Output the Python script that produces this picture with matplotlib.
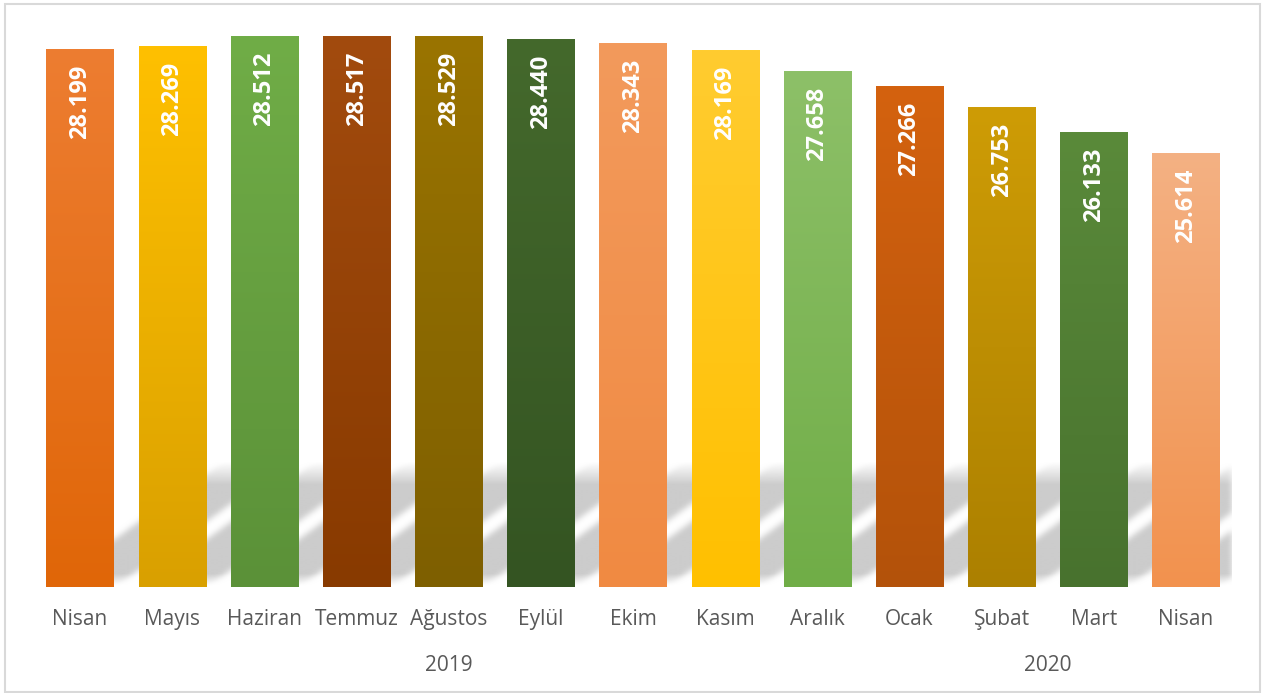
import numpy as np
import matplotlib.pyplot as plt
from matplotlib.patches import Rectangle
from matplotlib.colors import to_rgb

plt.rcParams['font.family'] = ['Open Sans', 'DejaVu Sans']

# ---------------- Data ----------------

months = ["Nisan", "Mayıs", "Haziran", "Temmuz", "Ağustos", "Eylül", "Ekim",
          "Kasım", "Aralık", "Ocak", "Şubat", "Mart", "Nisan"]
values = [28.199, 28.269, 28.512, 28.517, 28.529, 28.440, 28.343,
          28.169, 27.658, 27.266, 26.753, 26.133, 25.614]
years = ["2019", "2020"]
year_first = [0, 9]   # first month index of each year
year_last = [8, 12]   # last month index of each year

top_colors = ["#ED7D31", "#FFC000", "#70AD47", "#A24B0E", "#9A7400", "#44692C",
              "#F39A5C", "#FFCC30", "#8DC068", "#D4620F", "#CE9C06", "#5A8A3A",
              "#F4B183"]
bottom_colors = ["#E06608", "#D9A000", "#5B9138", "#883A00", "#7E5F00", "#345422",
                 "#F08A42", "#FFC000", "#70AD47", "#B3520A", "#AC8000", "#48722E",
                 "#F2924E"]

Y_MIN, Y_MAX = 14.8, 28.93
BAR_W = 0.73

fig = plt.figure(figsize=(12.65, 6.93), dpi=100)
ax = fig.add_axes([0.0269, 0.1530, 0.9470, 0.8181])

x = np.arange(len(months))

# ---------------- Soft diagonal shadow behind the bars ----------------

sh_bot, sh_top = Y_MIN, 18.0
nx, ny = 1200, 130
gx = np.linspace(-0.5, len(months) - 0.5, nx)
gy = np.linspace(sh_bot, sh_top, ny)
XX, YY = np.meshgrid(gx, gy)
off = 1.0 + 0.605 * (YY - 16.42)
mask = np.zeros_like(XX)
for c in x:
    mask[np.abs(XX - (c + off)) <= BAR_W / 2] = 1.0

k = np.exp(-0.5 * (np.arange(-8, 9) / 3.0) ** 2)
k /= k.sum()
mask = np.apply_along_axis(lambda r: np.convolve(r, k, mode='same'), 1, mask)
mask = np.apply_along_axis(lambda r: np.convolve(r, k, mode='same'), 0, mask)

fade_top = np.clip((17.92 - gy) / (17.92 - 17.35), 0, 1)
fade_bot = np.clip((gy - 14.82) / (15.12 - 14.82), 0, 1)
fade = (fade_top * fade_bot)[:, None]

shadow = np.zeros((ny, nx, 4))
shadow[..., :3] = 0.80
shadow[..., 3] = mask * fade
ax.imshow(shadow, extent=(-0.5, len(months) - 0.5, sh_bot, sh_top),
          origin='lower', aspect='auto', interpolation='bilinear', zorder=1)

# ---------------- Gradient bars ----------------

bars = ax.bar(x, values, width=BAR_W, color='none', edgecolor='none', zorder=2)

for bar, c_top, c_bot in zip(bars, top_colors, bottom_colors):
    x0 = bar.get_x()
    x1 = x0 + bar.get_width()
    h = bar.get_height()
    grad = np.linspace(to_rgb(c_bot), to_rgb(c_top), 256)[:, None, :]
    ax.imshow(grad, extent=(x0, x1, Y_MIN, h), origin='lower',
              aspect='auto', interpolation='bilinear', zorder=2)

# value labels inside the bars
for bar, v in zip(bars, values):
    ax.annotate(f"{v:.3f}", xy=(bar.get_x() + bar.get_width() / 2, v),
                xytext=(0, -11), textcoords='offset points',
                rotation=90, ha='center', va='top',
                color='white', fontweight='bold', fontsize=17, zorder=4)

# year labels under the month labels
for year, a, b in zip(years, year_first, year_last):
    ax.annotate(year, xy=((a + b) / 2, -0.139), xycoords=('data', 'axes fraction'),
                ha='center', va='center', fontsize=15, color='#595959')

ax.set_xlim(-0.5, len(months) - 0.5)
ax.set_ylim(Y_MIN, Y_MAX)
ax.set_xticks(x, months)
ax.set_yticks([])
ax.tick_params(axis='x', length=0, pad=16, labelsize=15, labelcolor='#595959')
for s in ax.spines.values():
    s.set_visible(False)

fig.add_artist(Rectangle((5 / 1265, 1 / 693), 1255 / 1265, 688 / 693,
                         transform=fig.transFigure, fill=False,
                         edgecolor='#D9D9D9', linewidth=1.5))

fig.savefig('out.png', dpi=100)
